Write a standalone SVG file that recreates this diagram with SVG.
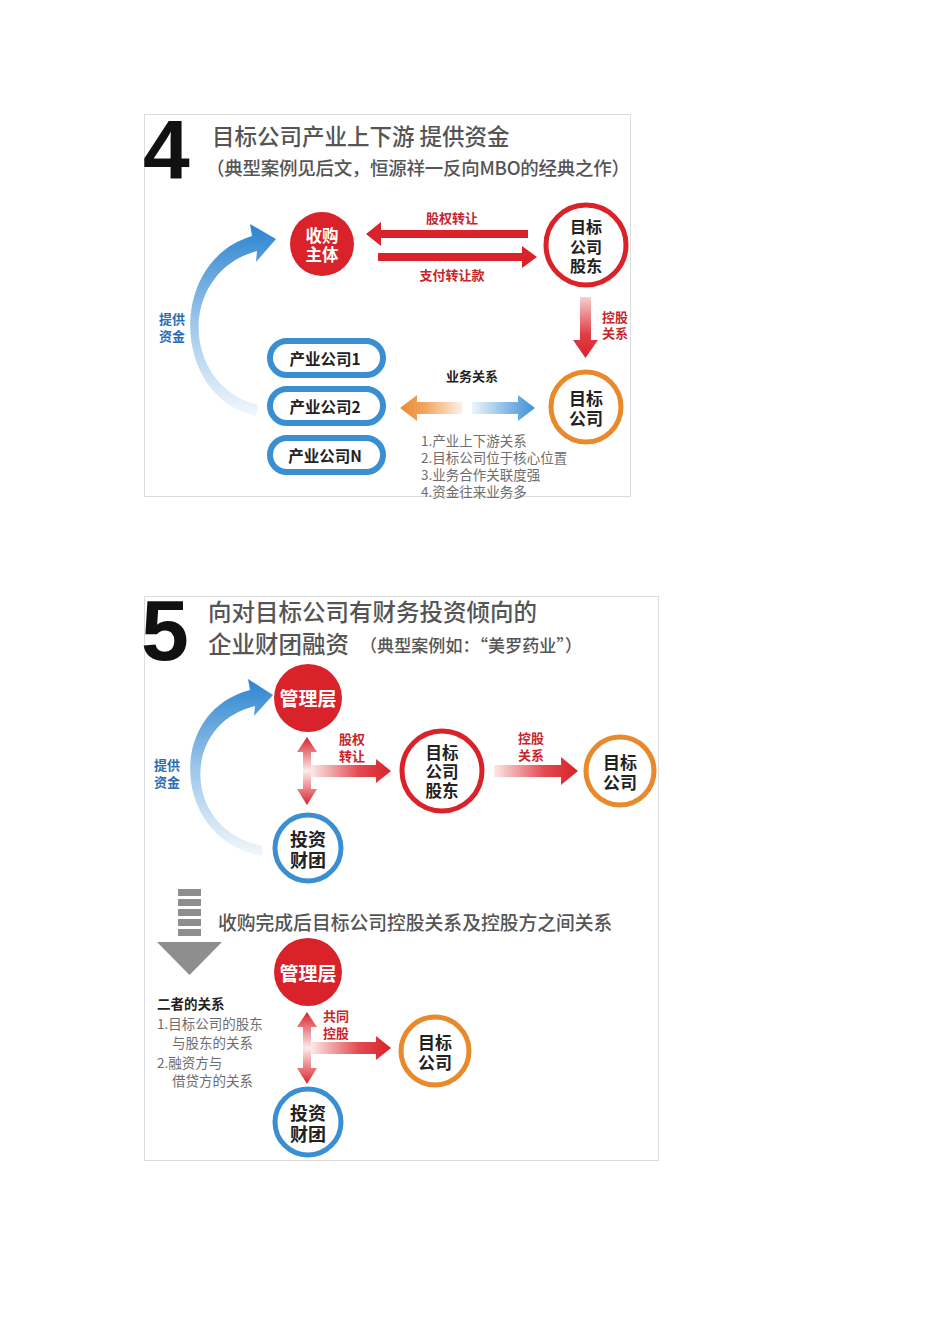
<svg xmlns="http://www.w3.org/2000/svg" width="950" height="1344" viewBox="0 0 950 1344">
<style>
.big{font-family:"Liberation Sans",Arial,sans-serif;font-weight:bold;fill:#111}
.title{font-family:"Noto Sans CJK SC",sans-serif;fill:#555;font-weight:500}
.node{font-family:"Noto Sans CJK SC",sans-serif;font-weight:bold;text-anchor:middle;dominant-baseline:central}
.wt{fill:#fff}
.bk{fill:#222}
.lbl{font-family:"Noto Sans CJK SC",sans-serif;font-weight:bold;text-anchor:middle;dominant-baseline:central;font-size:13px}
.red{fill:#c8242c}
.blue{fill:#2a6db5}
.list{font-family:"Noto Sans CJK SC",sans-serif;fill:#6e6e6e;font-size:13.5px;dominant-baseline:central}
.panel{fill:#fff;stroke:#dcdcdc;stroke-width:1}
.redfill{fill:#d9222a}
.ringR{fill:#fff;stroke:#d9222a;stroke-width:5}
.ringO{fill:#fff;stroke:#e8892b;stroke-width:5}
.ringB{fill:#fff;stroke:#3a8fd2;stroke-width:5}
.pill{fill:#fff;stroke:#3a8fd2;stroke-width:6}
</style>
<defs>
<linearGradient id="gBlue1" gradientUnits="userSpaceOnUse" x1="0" y1="416" x2="0" y2="228">
<stop offset="0" stop-color="#f2f7fc"/><stop offset="0.5" stop-color="#9cc6ea"/><stop offset="1" stop-color="#2f86d0"/>
</linearGradient>
<linearGradient id="gBlue2" gradientUnits="userSpaceOnUse" x1="0" y1="856" x2="0" y2="680">
<stop offset="0" stop-color="#f2f7fc"/><stop offset="0.5" stop-color="#9cc6ea"/><stop offset="1" stop-color="#2f86d0"/>
</linearGradient>
<linearGradient id="gDown" x1="0" y1="0" x2="0" y2="1">
<stop offset="0" stop-color="#f6d0d0"/><stop offset="0.6" stop-color="#e04048"/><stop offset="1" stop-color="#d9222a"/>
</linearGradient>
<linearGradient id="gRight" x1="0" y1="0" x2="1" y2="0">
<stop offset="0" stop-color="#fbe8e8"/><stop offset="0.6" stop-color="#e24a50"/><stop offset="1" stop-color="#d9222a"/>
</linearGradient>
<linearGradient id="gOrangeL" x1="0" y1="0" x2="1" y2="0">
<stop offset="0" stop-color="#ec8a2e"/><stop offset="0.4" stop-color="#f2a560"/><stop offset="1" stop-color="#fdf0e4"/>
</linearGradient>
<linearGradient id="gBlueR" x1="0" y1="0" x2="1" y2="0">
<stop offset="0" stop-color="#eef5fb"/><stop offset="0.6" stop-color="#80b6e4"/><stop offset="1" stop-color="#3f93d6"/>
</linearGradient>
<linearGradient id="gVert" x1="0" y1="0" x2="0" y2="1">
<stop offset="0" stop-color="#d9222a"/><stop offset="0.5" stop-color="#fbecec"/><stop offset="1" stop-color="#d9222a"/>
</linearGradient>
</defs>

<!-- Panel 4 -->
<rect class="panel" x="144.5" y="114.5" width="486" height="382"/>
<text class="big" x="143" y="179" font-size="84">4</text>
<text class="title" x="212" y="145" font-size="22.5">目标公司产业上下游 提供资金</text>
<text class="title" x="206" y="175" font-size="18.5" textLength="424" lengthAdjust="spacing">（典型案例见后文，恒源祥一反向MBO的经典之作）</text>

<g id="connectors4">
<path d="M 256 416 C 172 398, 166 262, 252 236 L 250 224 L 276 239 L 256 262 L 257 251 C 178 272, 180 385, 258 405 Z" fill="url(#gBlue1)"/>
<polygon points="528,230 381,230 381,222 366,234 381,246 381,238 528,238" fill="#d9222a"/>
<polygon points="378,253 522,253 522,246 537,257 522,268 522,261 378,261" fill="#d9222a"/>
<polygon points="580,297 591,297 591,340 598,340 585.5,358 573,340 580,340" fill="url(#gDown)"/>
<polygon points="462,402 417,402 417,395 400,408 417,421 417,414 462,414" fill="url(#gOrangeL)"/>
<polygon points="472,402 518,402 518,395 535,408 518,421 518,414 472,414" fill="url(#gBlueR)"/>
<text class="lbl red" x="452" y="217">股权转让</text>
<text class="lbl red" x="452" y="274">支付转让款</text>
<text class="lbl red" x="615" y="316">控股<tspan x="615" dy="16">关系</tspan></text>
<text class="lbl bk" x="472" y="375">业务关系</text>
<text class="lbl blue" x="172" y="318">提供<tspan x="172" dy="17">资金</tspan></text>
</g>

<g id="n4-acq">
<circle class="redfill" cx="322" cy="244" r="32"/>
<text class="node wt" x="322" y="235" font-size="16.5">收购<tspan x="322" dy="19">主体</tspan></text>
</g>
<g id="n4-holder">
<circle class="ringR" cx="586" cy="245" r="40"/>
<text class="node bk" x="586" y="226" font-size="16">目标<tspan x="586" dy="19.5">公司</tspan><tspan x="586" dy="19.5">股东</tspan></text>
</g>
<g id="n4-target">
<circle class="ringO" cx="586" cy="407" r="35"/>
<text class="node bk" x="586" y="397" font-size="17">目标<tspan x="586" dy="20">公司</tspan></text>
</g>
<g id="n4-ind1">
<rect class="pill" x="270" y="341" width="113" height="34" rx="17"/>
<text class="node bk" x="325" y="358" font-size="15.5">产业公司1</text>
</g>
<g id="n4-ind2">
<rect class="pill" x="270" y="389" width="113" height="34" rx="17"/>
<text class="node bk" x="325" y="406" font-size="15.5">产业公司2</text>
</g>
<g id="n4-indN">
<rect class="pill" x="270" y="438" width="113" height="34" rx="17"/>
<text class="node bk" x="325" y="455" font-size="15.5">产业公司N</text>
</g>
<g id="n4-list">
<text class="list" x="421" y="440">1.产业上下游关系<tspan x="421" dy="17">2.目标公司位于核心位置</tspan><tspan x="421" dy="17">3.业务合作关联度强</tspan><tspan x="421" dy="17">4.资金往来业务多</tspan></text>
</g>

<!-- Panel 5 -->
<rect class="panel" x="144.5" y="596.5" width="514" height="564"/>
<text class="big" x="141" y="660" font-size="86">5</text>
<text class="title" x="208" y="621" font-size="23.5">向对目标公司有财务投资倾向的</text>
<text class="title" x="208" y="653" font-size="23.5">企业财团融资</text>
<text class="title" x="360" y="652" font-size="17" font-weight="bold" textLength="222" lengthAdjust="spacing">（典型案例如：“美罗药业”）</text>

<g id="connectors5">
<path d="M 262 856 C 172 840, 165 712, 250 690 L 248 679 L 273 695 L 254 716 L 255 706 C 180 724, 182 830, 262 846 Z" fill="url(#gBlue2)"/>
<polygon points="307,737 317,752 311,752 311,789 317,789 307,805 297,789 303,789 303,752 297,752" fill="url(#gVert)"/>
<polygon points="311,765 376,765 376,759 391,771 376,783 376,777 311,777" fill="url(#gRight)"/>
<polygon points="494,765 561,765 561,757 578,771 561,785 561,777 494,777" fill="url(#gRight)"/>
<polygon points="307,1012 317,1027 311,1027 311,1068 317,1068 307,1084 297,1068 303,1068 303,1027 297,1027" fill="url(#gVert)"/>
<polygon points="311,1042 376,1042 376,1036 391,1048 376,1060 376,1054 311,1054" fill="url(#gRight)"/>
<text class="lbl red" x="352" y="738" font-size="14">股权<tspan x="352" dy="17">转让</tspan></text>
<text class="lbl red" x="531" y="737" font-size="14">控股<tspan x="531" dy="16.5">关系</tspan></text>
<text class="lbl red" x="336" y="1015" font-size="14">共同<tspan x="336" dy="17">控股</tspan></text>
<text class="lbl blue" x="167" y="764" font-size="14">提供<tspan x="167" dy="17">资金</tspan></text>
</g>

<g id="n5-mgmt">
<circle class="redfill" cx="308" cy="698" r="34"/>
<text class="node wt" x="308" y="697" font-size="19">管理层</text>
</g>
<g id="n5-fund">
<circle class="ringB" cx="308" cy="848" r="33"/>
<text class="node bk" x="308" y="838" font-size="18">投资<tspan x="308" dy="20.5">财团</tspan></text>
</g>
<g id="n5-holder">
<circle class="ringR" cx="442" cy="771" r="40"/>
<text class="node bk" x="442" y="752" font-size="16.5">目标<tspan x="442" dy="19">公司</tspan><tspan x="442" dy="19">股东</tspan></text>
</g>
<g id="n5-target">
<circle class="ringO" cx="620" cy="771" r="34"/>
<text class="node bk" x="620" y="761" font-size="17">目标<tspan x="620" dy="20">公司</tspan></text>
</g>

<g id="n5-down">
<rect x="178" y="889" width="23" height="7" fill="#8e8e8e"/>
<rect x="178" y="899" width="23" height="7" fill="#8e8e8e"/>
<rect x="178" y="909" width="23" height="7" fill="#8e8e8e"/>
<rect x="178" y="919" width="23" height="7" fill="#8e8e8e"/>
<rect x="178" y="929" width="23" height="7" fill="#8e8e8e"/>
<polygon points="157,942 222,942 189.5,975" fill="#8e8e8e"/>
</g>
<text class="title" x="218" y="930" font-size="18.8">收购完成后目标公司控股关系及控股方之间关系</text>

<g id="n5-mgmt2">
<circle class="redfill" cx="308" cy="972" r="34"/>
<text class="node wt" x="308" y="972" font-size="19">管理层</text>
</g>
<g id="n5-fund2">
<circle class="ringB" cx="308" cy="1122" r="33"/>
<text class="node bk" x="308" y="1112" font-size="18">投资<tspan x="308" dy="20.5">财团</tspan></text>
</g>
<g id="n5-target2">
<circle class="ringO" cx="435" cy="1051" r="34"/>
<text class="node bk" x="435" y="1041" font-size="17">目标<tspan x="435" dy="20">公司</tspan></text>
</g>
<g id="n5-note">
<text class="list" x="157" y="1003"><tspan style="fill:#222;font-weight:bold">二者的关系</tspan><tspan x="157" dy="20">1.目标公司的股东</tspan><tspan x="172" dy="19">与股东的关系</tspan><tspan x="157" dy="20">2.融资方与</tspan><tspan x="172" dy="18">借贷方的关系</tspan></text>
</g>
</svg>
